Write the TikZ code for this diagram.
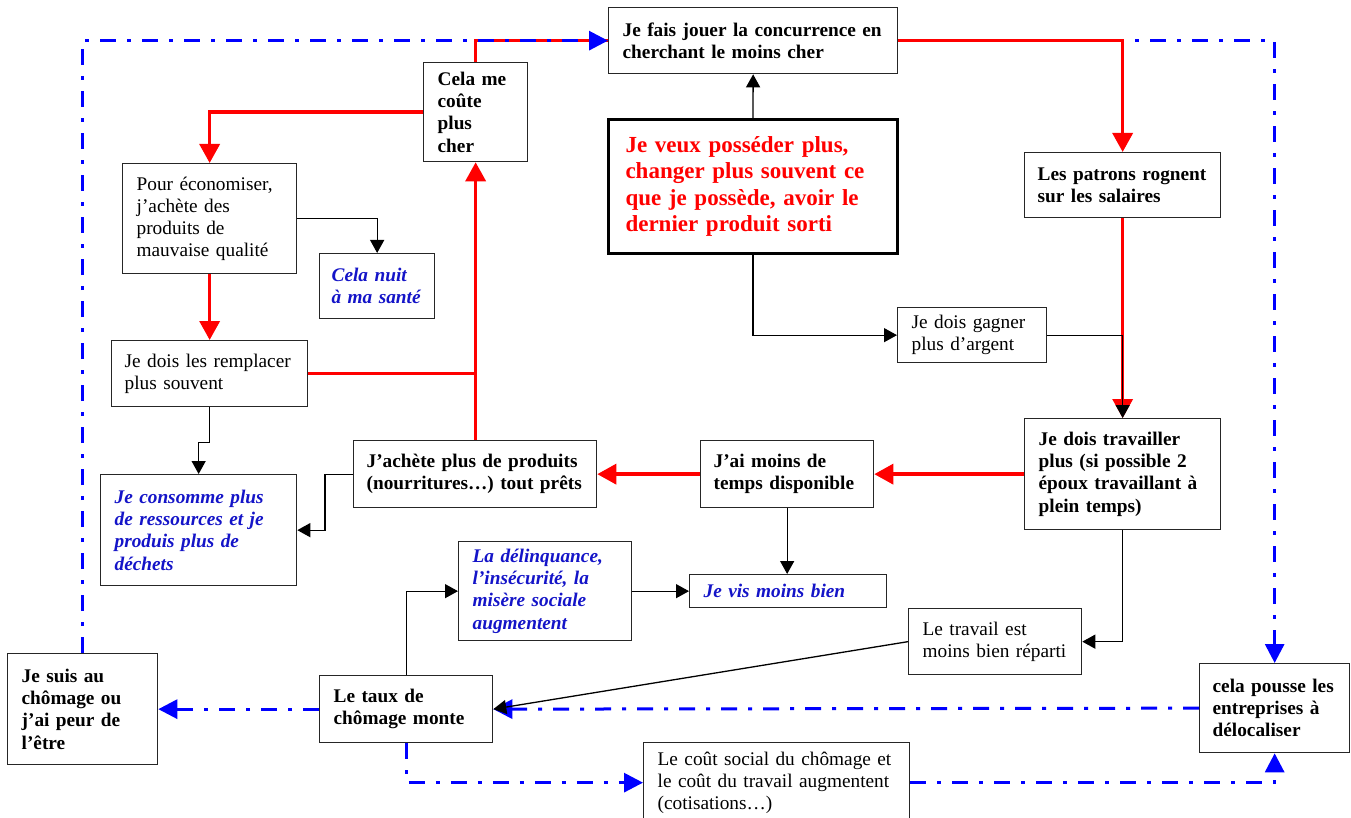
\documentclass[tikz,border=0pt]{standalone}
\usepackage{fontspec}
\setmainfont{Liberation Serif}
\usetikzlibrary{arrows.meta}
\definecolor{myred}{RGB}{255,0,0}
\definecolor{myblue}{RGB}{0,0,255}
\definecolor{txtblue}{RGB}{20,20,200}
\newcommand\nf{\fontsize{19.3}{22.2}\selectfont}
\newcommand\bigf{\fontsize{23}{26.5}\selectfont}
\tikzset{
  box/.style={draw=black!85, line width=1.3pt, inner xsep=14pt, inner ysep=0pt, align=left, anchor=north west, font=\nf},
  bbox/.style={box, font=\nf\bfseries},
  ibox/.style={box, font=\nf\bfseries\itshape, text=txtblue},
  redarr/.style={draw=myred, line width=3.5pt, -{Triangle[length=19pt,width=20pt]}},
  redln/.style={draw=myred, line width=3.5pt},
  blkarr/.style={draw=black, line width=1.3pt, -{Triangle[length=13pt,width=14pt]}},
  bluarr/.style={draw=myblue, line width=3pt, dash pattern=on 16pt off 11pt on 4pt off 11pt, -{Triangle[length=19pt,width=19pt]}},
}
\begin{document}
\begin{tikzpicture}[x=1pt,y=-1pt]
\fill[white] (0,0) rectangle (1351,818);
\useasboundingbox (0,0) rectangle (1351,818);
\clip (0,0) rectangle (1351,818);
% nodes
\node[bbox, text width=261pt, minimum height=66pt] (conc) at (608,7) {Je fais jouer la concurrence en\\cherchant le moins cher};
\node[bbox, text width=76pt, minimum height=99pt] (cout) at (423,62) {Cela me\\coûte\\plus\\cher};
\node[box, line width=3pt, draw=black, inner xsep=17pt, text width=255pt, minimum height=134pt, font=\bigf\bfseries, text=myred] (main) at (607,118) {Je veux posséder plus,\\changer plus souvent ce\\que je possède, avoir le\\dernier produit sorti};
\node[bbox, inner xsep=13pt, text width=170pt, minimum height=65pt] (patrons) at (1024,152) {Les patrons rognent\\sur les salaires};
\node[box, text width=146pt, minimum height=110pt] (econ) at (122,163) {Pour économiser,\\j’achète des\\produits de\\mauvaise qualité};
\node[ibox, inner xsep=12pt, text width=91pt, minimum height=65pt] (sante) at (319,253) {Cela nuit\\à ma santé};
\node[box, inner xsep=13pt, text width=170pt, minimum height=66pt] (rempl) at (111,340) {Je dois les remplacer\\plus souvent};
\node[box, text width=121pt, minimum height=55pt] (gagner) at (897,307) {Je dois gagner\\plus d’argent};
\node[bbox, inner xsep=13pt, text width=217pt, minimum height=67pt] (achete) at (353,440) {J’achète plus de produits\\(nourritures…) tout prêts};
\node[bbox, inner xsep=13pt, text width=147pt, minimum height=67pt] (temps) at (700,440) {J’ai moins de\\temps disponible};
\node[bbox, text width=168pt, minimum height=111pt] (trav) at (1024,418) {Je dois travailler\\plus (si possible 2\\époux travaillant à\\plein temps)};
\node[ibox, text width=168pt, minimum height=111pt] (conso) at (100,474) {Je consomme plus\\de ressources et je\\produis plus de\\déchets};
\node[ibox, text width=145pt, minimum height=99pt] (delinq) at (458,541) {La délinquance,\\l’insécurité, la\\misère sociale\\augmentent};
\node[ibox, text width=169pt, minimum height=33pt] (vis) at (689,574) {Je vis moins bien};
\node[box, text width=145pt, minimum height=66pt] (repart) at (908,608) {Le travail est\\moins bien réparti};
\node[bbox, text width=122pt, minimum height=111pt] (chom) at (7,653) {Je suis au\\chômage ou\\j’ai peur de\\l’être};
\node[bbox, text width=145pt, minimum height=67pt] (taux) at (319,675) {Le taux de\\chômage monte};
\node[bbox, inner xsep=13pt, text width=124pt, minimum height=89pt] (deloc) at (1199,663) {cela pousse les\\entreprises à\\délocaliser};
\node[box, text width=238pt, minimum height=80pt] (social) at (643,742) {Le coût social du chômage et\\le coût du travail augmentent\\(cotisations…)};
% blue under red
\draw[bluarr] (conc.east) -| (deloc.north);
% red connectors
\draw[redarr] (conc.east) -| (patrons.north);
\draw[redarr] (patrons.south) -- (trav.north);
\draw[redln] (cout.north) |- (conc.west);
\draw[redarr] (cout.west) -| (econ.north);
\draw[redarr] (econ.south) -- (rempl.north);
\draw[redln] (rempl.east) -- (rempl.east -| cout.south);
\draw[redarr] (achete.north -| cout.south) -- (cout.south);
\draw[redarr] (temps.west) -- (achete.east);
\draw[redarr] (trav.west) -- (temps.east);
% blue connectors
\draw[bluarr] (chom.north) |- (conc.west);
\draw[bluarr] (deloc.west) -- (taux.east);
\draw[bluarr] (taux.west) -- (chom.east);
\draw[bluarr] (taux.south) |- (social.west);
\draw[bluarr] (social.east) -| (deloc.south);
% black connectors
\draw[blkarr] (main.north) -- (conc.south);
\draw[blkarr] (main.south) |- (gagner.west);
\draw[blkarr] (gagner.east) -| (trav.north);
\draw[blkarr] (econ.east) -| (sante.north);
\draw[blkarr] (rempl.south) -- ++(0,35) -| (conso.north);
\draw[blkarr] (achete.west) -- ++(-28,0) |- (conso.east);
\draw[blkarr] (temps.south) -- (temps.south |- vis.north);
\draw[blkarr] (delinq.east) -- (vis.west);
\draw[blkarr] (taux.north) |- (delinq.west);
\draw[blkarr] (trav.south) |- (repart.east);
\draw[blkarr] (repart.west) -- (taux.east);
\end{tikzpicture}
\end{document}
